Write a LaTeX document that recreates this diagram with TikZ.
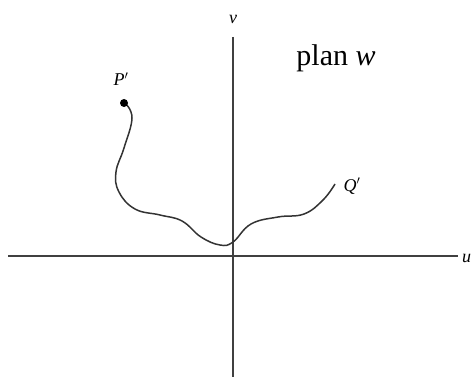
\documentclass[tikz,border=0pt]{standalone}
\usepackage{fontspec}
\setmainfont{Liberation Serif}
\begin{document}
\begin{tikzpicture}[x=1pt,y=-1pt,
  axis/.style={draw=black!75,line width=1.3pt},
  curve/.style={draw=black!80,line width=1.5pt},
  lbl/.style={font=\fontsize{18}{18}\selectfont\itshape,inner sep=0pt}]
\useasboundingbox (0,0) rectangle (473,377);
\coordinate (xl) at (8,256);
\coordinate (xr) at (458,256);
\coordinate (yt) at (233,37);
\coordinate (yb) at (233,377);
\draw[axis] (xl) -- (xr);
\draw[axis] (yt) -- (yb);
\node[lbl,anchor=west] (u) at (462,258) {u};
\node[lbl] (v) at (233,19) {v};
\node[inner sep=0pt,font=\fontsize{30}{30}\selectfont] (plan) at (336,58) {plan \textit{w}};
\draw[curve] plot[smooth,tension=0.7] coordinates {(125,103)(132,118)(124,148)(116,172)(119,192)(135,209)(160,215)(182,221)(201,237)(220,245)(233,242)(251,224)(278,217)(304,214)(323,200)(335,184)};
\node[circle,fill=black,inner sep=0pt,minimum size=8pt] (P) at (124,103) {};
\coordinate (Qend) at (335,184);
\node[lbl] (Pl) at (121,79) {P$'$};
\node[lbl] (Ql) at (352,186) {Q$'$};
\end{tikzpicture}
\end{document}
